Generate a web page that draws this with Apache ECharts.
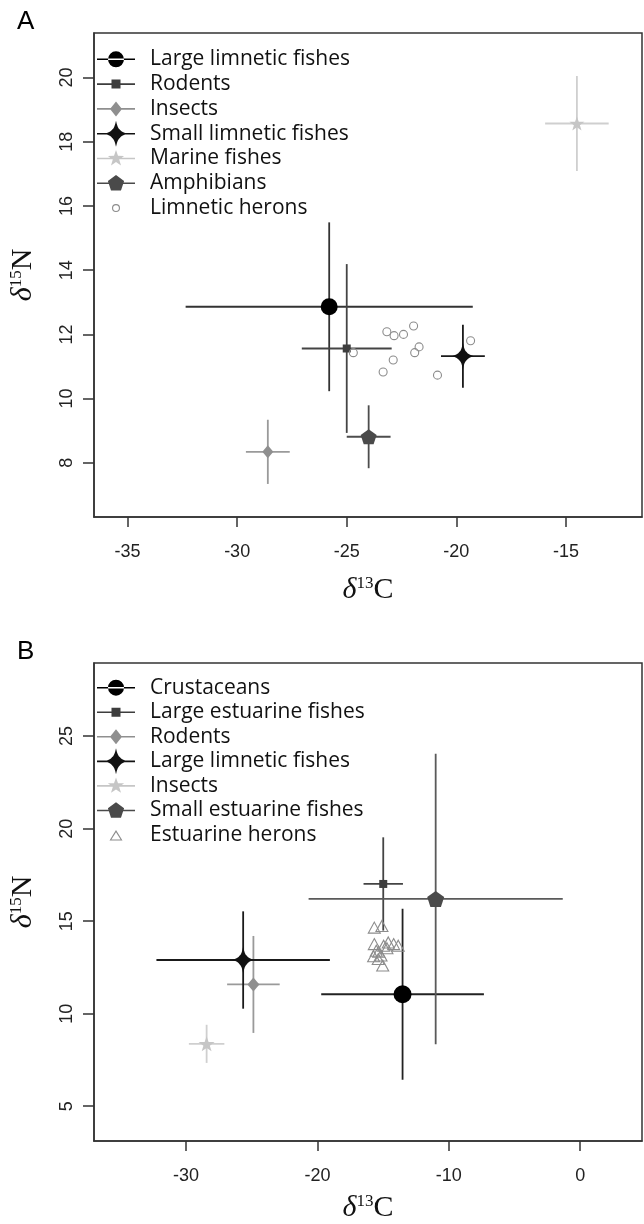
<!DOCTYPE html>
<html>
<head>
<meta charset="utf-8">
<script src="https://cdn.jsdelivr.net/npm/echarts@6.0.0/dist/echarts.min.js"></script>
<style>
  html, body { margin: 0; padding: 0; background: #fff; }
  #chart { width: 644px; height: 1224px; }
</style>
</head>
<body>
<div id="chart"></div>
<script>
// ---- panel A: limnetic food web ----
const groupsA = ['Large limnetic fishes', 'Rodents', 'Insects', 'Small limnetic fishes', 'Marine fishes', 'Amphibians'];
const meanCA = [-25.8, -25.0, -28.6, -19.7, -14.5, -24.0];
const meanNA = [12.86, 11.56, 8.34, 11.32, 18.57, 8.81];
const sdCA = [6.55, 2.05, 1.0, 1.0, 1.45, 1.0];
const sdNA = [2.63, 2.63, 1.0, 0.98, 1.48, 0.98];
const heronNameA = 'Limnetic herons';
const heronCA = [-23.17, -22.84, -22.41, -21.95, -19.35, -24.70, -21.70, -21.90, -22.88, -23.34, -20.86];
const heronNA = [12.08, 11.96, 12.00, 12.26, 11.80, 11.43, 11.61, 11.43, 11.20, 10.83, 10.73];
const xTicksA = [-35, -30, -25, -20, -15];
const yTicksA = [8, 10, 12, 14, 16, 18, 20];

// ---- panel B: estuarine food web ----
const groupsB = ['Crustaceans', 'Large estuarine fishes', 'Rodents', 'Large limnetic fishes', 'Insects', 'Small estuarine fishes'];
const meanCB = [-13.52, -14.99, -24.87, -25.65, -28.43, -11.0];
const meanNB = [11.05, 17.01, 11.58, 12.9, 8.37, 16.2];
const sdCB = [6.19, 1.5, 2.0, 6.6, 1.35, 9.67];
const sdNB = [4.62, 2.52, 2.62, 2.63, 1.03, 7.85];
const heronNameB = 'Estuarine herons';
const heronCB = [-15.67, -15.09, -15.67, -14.96, -14.61, -14.2, -13.85, -15.34, -15.72, -15.37, -15.03, -14.71, -15.52, -15.16];
const heronNB = [14.65, 14.74, 13.76, 13.67, 13.85, 13.76, 13.67, 13.35, 13.1, 12.95, 12.6, 13.54, 13.4, 13.14];
const xTicksB = [-30, -20, -10, 0];
const yTicksB = [5, 10, 15, 20, 25];

// marker shapes
const star4 = 'path://M0,-13Q1.5,-5.5 4,-4Q5.5,-1.5 12,0Q5.5,1.5 4,4Q1.5,5.5 0,13Q-1.5,5.5 -4,4Q-5.5,1.5 -12,0Q-5.5,-1.5 -4,-4Q-1.5,-5.5 0,-13Z';
const star5 = 'path://M0,-1L0.235,-0.324L0.951,-0.309L0.38,0.124L0.588,0.809L0,0.4L-0.588,0.809L-0.38,0.124L-0.951,-0.309L-0.235,-0.324Z';
const pentagon = 'path://M0,-1L0.951,-0.309L0.588,0.809L-0.588,0.809L-0.951,-0.309Z';

// legend icons: 48x26 box, short line through the marker
const box = 'M0,0h0.01v0.01h-0.01z M47.99,25.99h0.01v0.01h-0.01z ';
const bar = 'M0,12.2h38v1.6h-38z ';
const iconShapes = {
  circle: 'M11,13a8,8 0 1,0 16,0a8,8 0 1,0 -16,0z',
  rect: 'M14.5,8.5h9v9h-9z',
  diamond: 'M19,5.5l6,7.5l-6,7.5l-6,-7.5z',
  star4: 'M19,0Q20.5,7.5 23,9Q24.5,11.5 31,13Q24.5,14.5 23,17Q20.5,18.5 19,26Q17.5,18.5 15,17Q13.5,14.5 7,13Q13.5,11.5 15,9Q17.5,7.5 19,0Z',
  star5: 'M19,4.5L21,10.25L27.1,10.4L22.2,14.1L24,19.9L19,16.6L14,19.9L15.8,14.1L10.9,10.4L17,10.25Z',
  pentagon: 'M19,4.8L27.1,10.7L24,20.2L14,20.2L10.9,10.7Z'
};
const ringIcon = 'path://' + box + 'M15,13a4,4 0 1,1 8,0a4,4 0 1,1 -8,0z M16.1,13a2.9,2.9 0 1,0 5.8,0a2.9,2.9 0 1,0 -5.8,0z';
const triIcon = 'path://' + box + 'M19,8L25.5,18.5L12.5,18.5Z M19,10.2L14.4,17.5L23.6,17.5Z';

const shapeKeys = ['circle', 'rect', 'diamond', 'star4', 'star5', 'pentagon'];
const symbolOf = { circle: 'circle', rect: 'rect', diamond: 'diamond', star4: star4, star5: star5, pentagon: pentagon };
const sizeA = [17, 8, [11, 13], [22, 27], [15, 14], [16, 15]];
const sizeB = [18, 8, [12, 14], [22, 27], [16, 15], [17, 16]];
const colorA = ['#000000', '#3d3d3d', '#8f8f8f', '#111111', '#c6c6c6', '#4a4a4a'];
const colorB = ['#000000', '#3d3d3d', '#8f8f8f', '#111111', '#c6c6c6', '#4a4a4a'];
const barColorA = ['#333333', '#444444', '#9a9a9a', '#1a1a1a', '#cfcfcf', '#4d4d4d'];
const barColorB = ['#222222', '#444444', '#9a9a9a', '#1a1a1a', '#cfcfcf', '#5a5a5a'];
const heronColor = '#8c8c8c';

const axisColor = '#333';
const titleRich = {
  rich: {
    d: { fontFamily: 'Liberation Serif', fontStyle: 'italic', fontSize: 30, color: '#111' },
    s: { fontFamily: 'Liberation Serif', fontSize: 17, color: '#111', verticalAlign: 'top' },
    c: { fontFamily: 'Liberation Serif', fontSize: 30, color: '#111' }
  }
};

function errorBars(color) {
  return function (params, api) {
    const x = api.value(0), y = api.value(1), sx = api.value(2), sy = api.value(3);
    const l = api.coord([x - sx, y]), r = api.coord([x + sx, y]);
    const t = api.coord([x, y + sy]), b = api.coord([x, y - sy]);
    const style = { stroke: color, lineWidth: 1.8 };
    return {
      type: 'group',
      children: [
        { type: 'line', shape: { x1: l[0], y1: l[1], x2: r[0], y2: r[1] }, style },
        { type: 'line', shape: { x1: t[0], y1: t[1], x2: b[0], y2: b[1] }, style }
      ]
    };
  };
}

function panelSeries(idx, names, mc, mn, sc, sn, sizes, colors, barColors, heronName, hc, hn, heronSymbol, heronSize) {
  const out = [];
  names.forEach((name, i) => {
    out.push({
      type: 'custom', name, xAxisIndex: idx, yAxisIndex: idx, z: 2,
      renderItem: errorBars(barColors[i]),
      encode: { x: 0, y: 1 },
      data: [[mc[i], mn[i], sc[i], sn[i]]]
    });
    out.push({
      type: 'scatter', name, xAxisIndex: idx, yAxisIndex: idx, z: 3,
      symbol: symbolOf[shapeKeys[i]], symbolSize: sizes[i],
      itemStyle: { color: colors[i], opacity: 1 },
      data: [[mc[i], mn[i]]]
    });
  });
  out.push({
    type: 'scatter', name: heronName, xAxisIndex: idx, yAxisIndex: idx, z: 4,
    symbol: heronSymbol, symbolSize: heronSize,
    itemStyle: { color: 'rgba(0,0,0,0)', borderColor: heronColor, borderWidth: 1.1, opacity: 1 },
    data: hc.map((c, i) => [c, hn[i]])
  });
  return out;
}

function legendFor(top, gap, names, colors, heronName, heronIcon) {
  const data = names.map((name, i) => ({
    name,
    icon: 'path://' + box + bar + iconShapes[shapeKeys[i]],
    itemStyle: { color: colors[i], borderWidth: 0, opacity: 1 }
  }));
  data.push({ name: heronName, icon: heronIcon, itemStyle: { color: heronColor, borderWidth: 0, opacity: 1 } });
  return {
    orient: 'vertical', left: 97, top, itemWidth: 48, itemHeight: 26, itemGap: gap,
    selectedMode: false, padding: 0,
    textStyle: { fontFamily: 'Open Sans', fontSize: 21, color: '#111' },
    data
  };
}

function xAxisFor(gridIndex, min, max, ticks, gap) {
  return {
    type: 'value', gridIndex, min, max,
    name: '{d|δ}{s|13}{c|C}', nameLocation: 'middle', nameGap: gap, nameTextStyle: titleRich,
    axisLine: { show: true, onZero: false, lineStyle: { color: axisColor, width: 1.5 } },
    axisTick: { show: true, length: 10, customValues: ticks, lineStyle: { color: axisColor, width: 1.5 } },
    axisLabel: { customValues: ticks, margin: 26, fontSize: 18, fontFamily: 'Liberation Sans', color: '#222' },
    splitLine: { show: false }
  };
}

function yAxisFor(gridIndex, min, max, ticks, gap) {
  return {
    type: 'value', gridIndex, min, max,
    name: '{d|δ}{s|15}{c|N}', nameLocation: 'middle', nameGap: gap, nameRotate: 90, nameTextStyle: titleRich,
    axisLine: { show: true, onZero: false, lineStyle: { color: axisColor, width: 1.5 } },
    axisTick: { show: true, length: 11, customValues: ticks, lineStyle: { color: axisColor, width: 1.5 } },
    axisLabel: { customValues: ticks, rotate: 90, margin: 18, fontSize: 18, fontFamily: 'Liberation Sans', color: '#222' },
    splitLine: { show: false }
  };
}

const chart = echarts.init(document.getElementById('chart'));
chart.setOption({
  animation: false,
  backgroundColor: '#fff',
  title: [
    { text: 'A', left: 12, top: 4, textStyle: { fontFamily: 'Liberation Sans', fontSize: 26, fontWeight: 'normal', color: '#000' } },
    { text: 'B', left: 12, top: 634, textStyle: { fontFamily: 'Liberation Sans', fontSize: 26, fontWeight: 'normal', color: '#000' } }
  ],
  grid: [
    { left: 92, top: 33, width: 550, height: 484, show: true, borderColor: axisColor, borderWidth: 1.5 },
    { left: 92, top: 663, width: 550, height: 482.5, show: true, borderColor: axisColor, borderWidth: 1.5 }
  ],
  xAxis: [
    xAxisFor(0, -36.53, -11.53, xTicksA, 58),
    xAxisFor(1, -37.0, 4.7, xTicksB, 52)
  ],
  yAxis: [
    yAxisFor(0, 6.31, 21.39, yTicksA, 56),
    yAxisFor(1, 3.12, 28.95, yTicksB, 56)
  ],
  legend: [
    legendFor(46.3, -1.2, groupsA, colorA, heronNameA, ringIcon),
    legendFor(674.7, -1.45, groupsB, colorB, heronNameB, triIcon)
  ],
  series: [
    ...panelSeries(0, groupsA, meanCA, meanNA, sdCA, sdNA, sizeA, colorA, barColorA, heronNameA, heronCA, heronNA, 'circle', 8),
    ...panelSeries(1, groupsB, meanCB, meanNB, sdCB, sdNB, sizeB, colorB, barColorB, heronNameB, heronCB, heronNB, 'triangle', [12, 11])
  ]
});
</script>
</body>
</html>
